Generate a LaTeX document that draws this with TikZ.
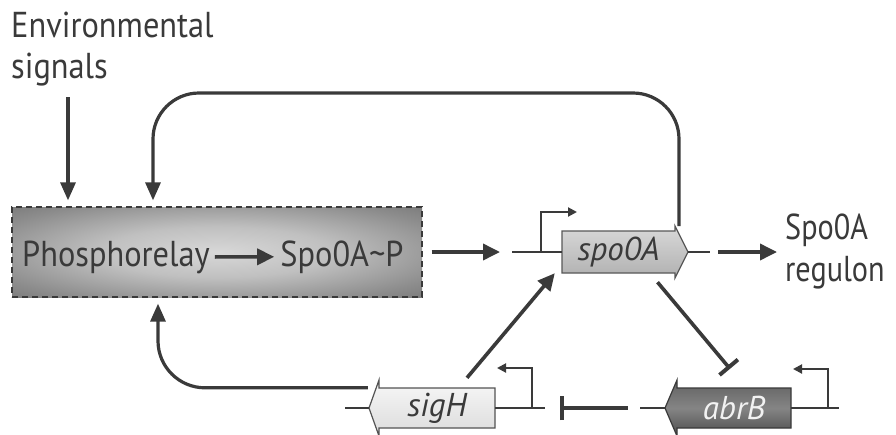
\documentclass[tikz,border=0pt]{standalone}
\usepackage{fontspec}
\setmainfont{PT Sans}
\newfontfamily\lblfont{PT Sans}[FakeStretch=0.9]
\newfontfamily\narrowlblfont{PT Sans}[FakeStretch=0.84]
\usetikzlibrary{arrows.meta,calc}
\definecolor{ink}{HTML}{3A3A3A}
\definecolor{boxedge}{HTML}{555555}
\definecolor{boxmid}{HTML}{D8D8D8}
\definecolor{boxq}{HTML}{C0C0C0}
\definecolor{boxh}{HTML}{8C8C8C}
\pgfdeclareradialshading{relayshade}{\pgfpoint{0bp}{0bp}}{%
  color(0bp)=(boxmid); color(14bp)=(boxq); color(30bp)=(boxh);
  color(50bp)=(boxedge); color(75bp)=(boxedge)}
\begin{document}
\begin{tikzpicture}[x=1pt,y=-1pt,
  lbl/.style={font=\lblfont\fontsize{36}{41}\selectfont, text=ink, inner sep=0pt},
  genelbl/.style={font=\fontsize{33}{38}\selectfont\itshape, inner sep=0pt, draw=none},
  thickarr/.style={line width=3.6pt, draw=ink, -{Triangle[length=17pt,width=16pt]}},
  looparr/.style={line width=3.2pt, draw=ink, -{Triangle[length=18pt,width=15pt]}},
  dna/.style={line width=2pt, draw=ink},
  prom/.style={line width=2pt, draw=ink, -{Triangle[length=9pt,width=9pt]}},
  inhib/.style={line width=3.6pt, draw=ink, -{Bar[width=24pt,line width=4pt]}},
]
\useasboundingbox[fill=white] (0,0) rectangle (896,434);

% --- phosphorelay box
\node[draw=ink, dashed, dash pattern=on 6pt off 4pt, line width=1.3pt,
      shading=relayshade,
      minimum width=410pt, minimum height=90pt, inner sep=0pt]
      (relay) at (217,252) {};
\node[lbl, anchor=base west] (phos) at (22,266) {Phosphorelay};
\node[lbl, anchor=base] (spoP) at (342,266) {Spo0A\textasciitilde P};
\draw[thickarr] ($(phos.east)+(5,0)$) -- ($(spoP.west)+(-6,0)$);

% --- environmental signals
\node[lbl, anchor=north west, align=left] (env) at (11,12) {Environmental\\signals};
\coordinate (envA) at (68,97);
\draw[looparr, shorten >=6pt] (envA) -- (envA |- relay.north);

% --- spo0A gene
\shade[top color=gray!30, bottom color=gray!62, draw=ink!85, line width=1.2pt]
  (562,231) -- (675,231) -- (675,226) -- (688,252) -- (675,278) -- (675,273) -- (562,273) -- cycle;
\node[genelbl, text=ink, minimum width=113pt, minimum height=42pt] (spo0A) at (618.5,252) {spo0A};
\coordinate (spoL) at (512,252);
\draw[dna] (spoL) -- (spo0A.west);
\coordinate (spoR) at (710,252);
\draw[dna] (688,252) -- (spoR);
\draw[prom] (541,252) -- (541,212) -- (577,212);

\draw[thickarr] ($(relay.east)+(9,0)$) -- ($(spoL)+(-12,0)$);

% --- Spo0A regulon
\node[lbl, font=\narrowlblfont\fontsize{36}{42}\selectfont, anchor=north west, align=left] (regulon) at (785,214) {Spo0A\\regulon};
\draw[thickarr] ($(spoR)+(8,0)$) -- ($(regulon.west |- spoR)+(-8,0)$);

% --- top feedback loop
\coordinate (fbStart) at (679,226);
\coordinate (fbL) at (153,93);
\draw[looparr, rounded corners=46pt, shorten >=6pt] (fbStart) |- (fbL) -- (fbL |- relay.north);

% --- sigH gene
\shade[top color=gray!6, bottom color=gray!28, draw=gray!65!black, line width=1.2pt]
  (495,388) -- (379,388) -- (379,380) -- (369,408) -- (379,436) -- (379,428) -- (495,428) -- cycle;
\node[genelbl, text=ink, minimum width=116pt, minimum height=40pt] (sigH) at (437,408) {sigH};
\draw[dna] (345,408) -- (369,408);
\draw[dna] (sigH.east) -- (545,408);
\draw[prom] (532,408) -- (532,368) -- (497,368);

% --- abrB gene
\shade[top color=black!62, bottom color=black!70, middle color=black!48, draw=ink, line width=1.2pt]
  (791,388) -- (677,388) -- (677,380) -- (665,408) -- (677,436) -- (677,428) -- (791,428) -- cycle;
\node[genelbl, text=white!90!gray, minimum width=114pt, minimum height=40pt] (abrB) at (734,408) {abrB};
\draw[dna] (640,408) -- (665,408);
\draw[dna] (abrB.east) -- (839,408);
\draw[prom] (828,408) -- (828,369) -- (793,369);

% --- regulatory connectors
\draw[thickarr] ($(sigH.north)+(30,-10)$) -- ($(spo0A.south west)+(-7,0)$);
\draw[inhib] ($(spo0A.south)+(39,9)$) -- ($(abrB.north)+(-4,-19)$);
\draw[inhib] ($(abrB.west)+(-49,0)$) -- ($(sigH.east)+(65,0)$);
\draw[looparr, rounded corners=47pt, shorten >=6pt] ($(sigH.north west)+(-11,0)$) -| ($(relay.south)+(-59,0)$);

\end{tikzpicture}
\end{document}
